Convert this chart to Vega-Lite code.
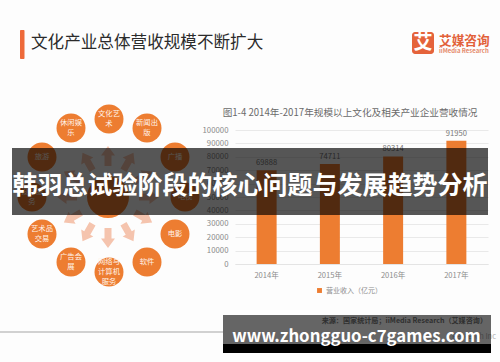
{
"$schema":"https://vega.github.io/schema/vega-lite/v6.json",
"width":253,"height":134,
"padding":{"left":235,"top":130,"right":12,"bottom":98},
"autosize":{"type":"none"},
"background":"#fdfdfd",
"config":{"view":{"stroke":null},"font":"Noto Sans CJK SC"},
"encoding":{
 "x":{"field":"x","type":"quantitative","axis":null,"scale":{"domain":[0,500],"range":[-235,265]}},
 "y":{"field":"y","type":"quantitative","axis":null,"scale":{"domain":[0,362],"range":[-130,232]}}
},
"datasets":{
"bars":[{"year":"2014年","revenue":69888,"series":"营业收入（亿元）"},{"year":"2015年","revenue":74711,"series":"营业收入（亿元）"},{"year":"2016年","revenue":80314,"series":"营业收入（亿元）"},{"year":"2017年","revenue":91950,"series":"营业收入（亿元）"}],
"arrows":[{"x":108,"y":156,"a":0},{"x":128.5,"y":161.5,"a":30},{"x":143.5,"y":176.5,"a":60},{"x":149,"y":197,"a":90},{"x":143.5,"y":217.5,"a":120},{"x":128.5,"y":232.5,"a":150},{"x":108,"y":238,"a":180},{"x":87.5,"y":232.5,"a":210},{"x":72.5,"y":217.5,"a":240},{"x":67,"y":197,"a":270},{"x":72.5,"y":176.5,"a":300},{"x":87.5,"y":161.5,"a":330}],
"nodes":[{"x":109,"y":119},{"x":147,"y":128},{"x":175,"y":157},{"x":185,"y":197},{"x":175,"y":234},{"x":147,"y":262},{"x":109,"y":272},{"x":71,"y":262},{"x":42,"y":234},{"x":32,"y":197},{"x":42,"y":157},{"x":71,"y":128}],
"nodeText":[{"x":109,"y":114,"t":"文化艺"},{"x":109,"y":124,"t":"术"},{"x":147,"y":123,"t":"新闻出"},{"x":147,"y":133,"t":"版"},{"x":175,"y":157,"t":"广播"},{"x":185,"y":197,"t":"电视"},{"x":175,"y":234,"t":"电影"},{"x":147,"y":262,"t":"软件"},{"x":109,"y":262,"t":"网络与"},{"x":109,"y":272,"t":"计算机"},{"x":109,"y":282,"t":"服务"},{"x":71,"y":257,"t":"广告会"},{"x":71,"y":267,"t":"展"},{"x":42,"y":229,"t":"艺术品"},{"x":42,"y":239,"t":"交易"},{"x":32,"y":192,"t":"设计服"},{"x":32,"y":202,"t":"务"},{"x":42,"y":157,"t":"旅游"},{"x":71,"y":123,"t":"休闲娱"},{"x":71,"y":133,"t":"乐"}],
"panels":[{"x":12,"x2":488,"y":148,"y2":215,"c":"#000000","o":0.66},{"x":223,"x2":491,"y":315,"y2":344,"c":"#000000","o":0.6},{"x":223,"x2":491,"y":344,"y2":353,"c":"#000000","o":1}]
},
"layer":[
{"data":{"name":"bars"},
 "mark":{"type":"bar"},
 "encoding":{
  "x":{"field":"year","type":"nominal","title":null,"scale":{"paddingInner":0.684,"paddingOuter":0.342},
    "axis":{"labelAngle":0,"labelFontSize":7.6,"labelColor":"#8c8c8c","domainColor":"#e4e4e4","ticks":false,"labelPadding":7}},
  "y":{"field":"revenue","type":"quantitative","title":null,"scale":{"domain":[0,100000]},
    "axis":{"values":[0,10000,20000,30000,40000,50000,60000,70000,80000,90000,100000],"format":"d","domain":false,"ticks":false,"labelFontSize":7.8,"labelColor":"#8c8c8c","labelPadding":7,"grid":true,"gridColor":"#e9e9e9"}},
  "color":{"field":"series","type":"nominal","scale":{"range":["#ed7d31"]},"title":null,
    "legend":{"orient":"none","legendX":81,"legendY":157,"labelFontSize":7,"labelColor":"#8c8c8c","symbolType":"square","symbolSize":24,"symbolOpacity":1,"labelOffset":3}}
 }},
{"data":{"name":"bars"},
 "mark":{"type":"text","dy":-7,"fontSize":7.6,"color":"#777777"},
 "encoding":{"x":{"field":"year","type":"nominal","axis":null,"scale":{"paddingInner":0.684,"paddingOuter":0.342}},"y":{"field":"revenue","type":"quantitative","axis":null,"scale":{"domain":[0,100000]}},"text":{"field":"revenue","type":"nominal"}}},
{"data":{"values":[{"x":20,"x2":24.5,"y":30,"y2":59}]},
 "mark":{"type":"rect","color":"#ee6a3a","cornerRadius":1},
 "encoding":{"x2":{"field":"x2"},"y2":{"field":"y2"}}},
{"data":{"values":[{"x":31,"y":43,"t":"文化产业总体营收规模不断扩大"}]},
 "mark":{"type":"text","align":"left","fontSize":16.6,"color":"#2b2b2b"},
 "encoding":{"text":{"field":"t"}}},
{"data":{"values":[{"x":350,"y":113,"t":"图1-4 2014年-2017年规模以上文化及相关产业企业营收情况"}]},
 "mark":{"type":"text","fontSize":9.65,"color":"#6a6a6a"},
 "encoding":{"text":{"field":"t"}}},
{"data":{"values":[{"x":412,"x2":434,"y":32,"y2":54}]},
 "mark":{"type":"rect","color":"#e5633b","cornerRadius":3},
 "encoding":{"x2":{"field":"x2"},"y2":{"field":"y2"}}},
{"data":{"values":[{"x":423,"y":43,"t":"艾"}]},
 "mark":{"type":"text","fontSize":19,"fontWeight":"bold","color":"#ffffff"},
 "encoding":{"text":{"field":"t"}}},
{"data":{"values":[{"x":439,"y":41,"t":"艾媒咨询"}]},
 "mark":{"type":"text","align":"left","fontSize":12.7,"fontWeight":"bold","color":"#e2613a"},
 "encoding":{"text":{"field":"t"}}},
{"data":{"values":[{"x":439,"y":51,"t":"iiMedia Research"}]},
 "mark":{"type":"text","align":"left","fontSize":6,"fontWeight":"bold","color":"#e58a6c"},
 "encoding":{"text":{"field":"t"}}},
{"data":{"name":"arrows"},
 "mark":{"type":"point","filled":true,"opacity":1,"color":"#f5c4ae","size":400,"shape":"M-0.35,1 L-0.35,-0.05 L-0.7,-0.05 L0,-1 L0.7,-0.05 L0.35,-0.05 L0.35,1 Z"},
 "encoding":{"angle":{"field":"a","type":"quantitative","scale":{"domain":[0,360],"range":[0,360]},"legend":null}}},
{"data":{"values":[{"x":108,"y":197}]},
 "mark":{"type":"point","filled":true,"opacity":1,"color":"#ed7d31","size":1764,"shape":"circle"}},
{"data":{"name":"nodes"},
 "mark":{"type":"point","filled":true,"opacity":1,"color":"#ed7d31","size":841,"shape":"circle"}},
{"data":{"name":"nodeText"},
 "mark":{"type":"text","fontSize":7.3,"color":"#fff3ea"},
 "encoding":{"text":{"field":"t"}}},
{"data":{"values":[{"x":0,"x2":223,"y":332}]},
 "mark":{"type":"rule","color":"#c2c2c2","strokeWidth":1.5},
 "encoding":{"x2":{"field":"x2"}}},
{"data":{"values":[{"x":496,"y":337,"t":"Research Inc"}]},
 "mark":{"type":"text","align":"right","fontSize":7.5,"color":"#b0b0b0"},
 "encoding":{"text":{"field":"t"}}},
{"data":{"name":"panels"},
 "mark":{"type":"rect"},
 "encoding":{"x2":{"field":"x2"},"y2":{"field":"y2"},"color":{"field":"c","type":"nominal","scale":null},"opacity":{"field":"o","type":"quantitative","scale":null}}},
{"data":{"values":[{"x":250,"y":186,"t":"韩羽总试验阶段的核心问题与发展趋势分析"}]},
 "mark":{"type":"text","fontSize":25,"fontWeight":"bold","color":"#ffffff"},
 "encoding":{"text":{"field":"t"}}},
{"data":{"values":[{"x":356.5,"y":337,"t":"www.zhongguo-c7games.com"}]},
 "mark":{"type":"text","fontSize":16.8,"fontWeight":"bold","color":"#ffffff"},
 "encoding":{"text":{"field":"t"}}},
{"data":{"values":[{"x":487,"y":321,"t":"来源：国家统计局；iiMedia Research（艾媒咨询）"}]},
 "mark":{"type":"text","align":"right","fontSize":7.1,"fontWeight":"bold","color":"#2f2f2f"},
 "encoding":{"text":{"field":"t"}}}
],
"resolve":{"scale":{"x":"independent","y":"independent","color":"independent"},"axis":{"x":"independent","y":"independent"}}
}
